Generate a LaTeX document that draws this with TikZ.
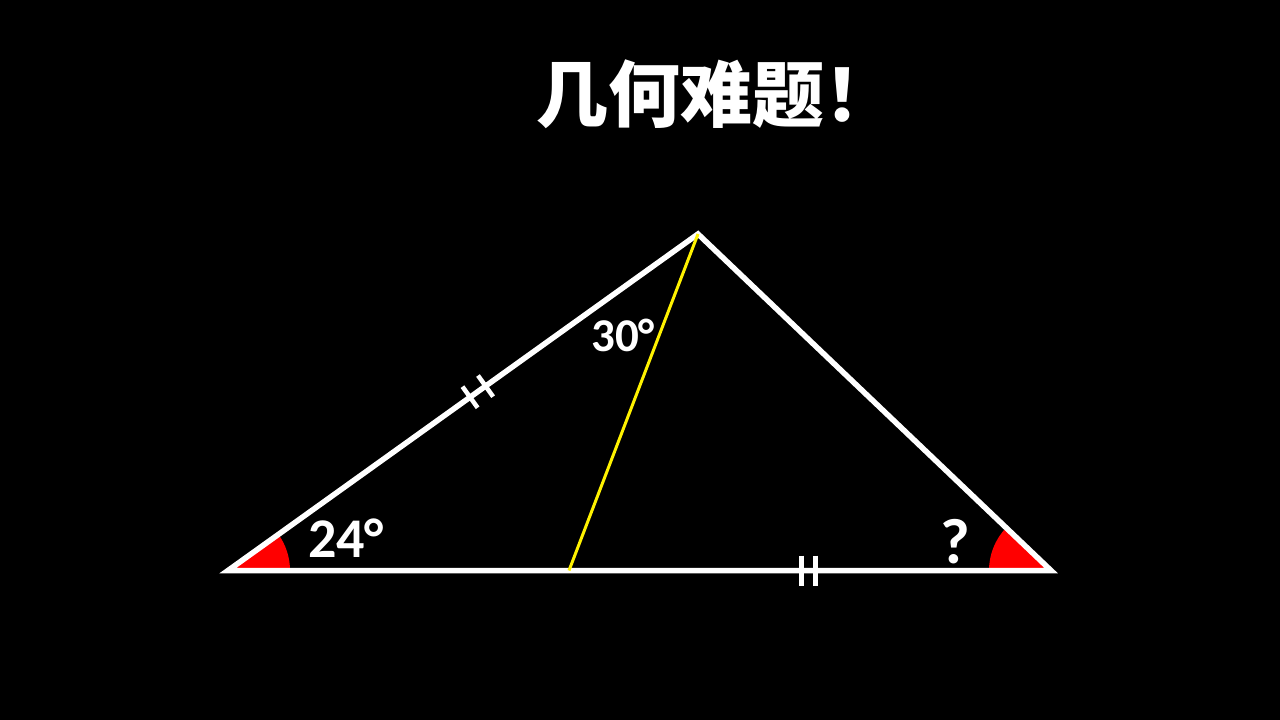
\documentclass[tikz,border=0pt]{standalone}
\usepackage{fontspec}
\setmainfont{Carlito}
\newfontfamily\cjk{Noto Sans CJK SC}
\usetikzlibrary{angles,calc}
\tikzset{
  side/.style={draw=white, line width=5.5pt, line join=miter},
  cevian/.style={draw=yellow, line width=3pt},
  tickmark/.style={draw=white, line width=4.5pt},
  lbl/.style={text=white, font=\bfseries\fontsize{56}{60}\selectfont, inner sep=0pt},
  anglemark/.style={fill=red, draw=none, angle radius=62pt}
}
\begin{document}
\begin{tikzpicture}[x=1pt,y=-1pt]
\fill[black] (0,0) rectangle (1280,720);
\useasboundingbox (0,0) rectangle (1280,720);
\coordinate (A) at (228,570.5);
\coordinate (B) at (698,234);
\coordinate (C) at (1051,570.5);
\coordinate (D) at (569,570.5);
% angle marks
\pic[anglemark] {angle = C--A--B};
\pic[anglemark] {angle = B--C--A};
% triangle
\draw[side] (A) -- (B) -- (C) -- cycle;
\draw[cevian] (D) -- (B);
% ticks on AB
\coordinate (T1) at ($(A)!0.515!(B)$);
\coordinate (T2) at ($(A)!0.548!(B)$);
\draw[tickmark] ($(T1)!13pt!90:(B)$) -- ($(T1)!13pt!-90:(B)$);
\draw[tickmark] ($(T2)!13pt!90:(B)$) -- ($(T2)!13pt!-90:(B)$);
% ticks on DC
\coordinate (U1) at (801.5,570.5);
\coordinate (U2) at (815.5,570.5);
\draw[tickmark] ($(U1)+(0,-15)$) -- ($(U1)+(0,15)$);
\draw[tickmark] ($(U2)+(0,-15)$) -- ($(U2)+(0,15)$);
% labels
\node[lbl, anchor=base west] (a24) at (308,557) {24°};
\node[lbl, font=\bfseries\fontsize{47}{50}\selectfont, anchor=base west] (a30) at (591,351) {30°};
\node[lbl, font=\bfseries\fontsize{64}{68}\selectfont, anchor=base west] (aq) at (940,563) {?};
\node[text=white, inner sep=0pt, font=\cjk\bfseries\fontsize{72}{76}\selectfont, anchor=west] (title) at (536,94) {几何难题！};
\end{tikzpicture}
\end{document}
